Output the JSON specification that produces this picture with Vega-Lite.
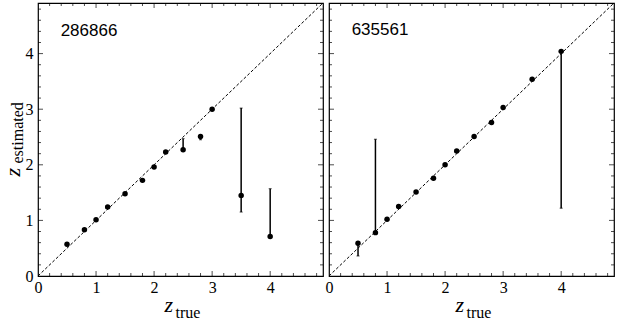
{
  "$schema": "https://vega.github.io/schema/vega-lite/v6.json",
  "padding": 0,
  "spacing": 6,
  "bounds": "flush",
  "datasets": {
    "a": [
      {"x": 0.5, "y": 0.57, "lo": null, "hi": null},
      {"x": 0.8, "y": 0.83, "lo": null, "hi": null},
      {"x": 1.0, "y": 1.01, "lo": null, "hi": null},
      {"x": 1.2, "y": 1.24, "lo": null, "hi": null},
      {"x": 1.5, "y": 1.48, "lo": null, "hi": null},
      {"x": 1.8, "y": 1.72, "lo": null, "hi": null},
      {"x": 2.0, "y": 1.96, "lo": null, "hi": null},
      {"x": 2.2, "y": 2.23, "lo": null, "hi": null},
      {"x": 2.5, "y": 2.27, "lo": 2.27, "hi": 2.47},
      {"x": 2.8, "y": 2.51, "lo": 2.45, "hi": 2.54},
      {"x": 3.0, "y": 3.0, "lo": null, "hi": null},
      {"x": 3.5, "y": 1.45, "lo": 1.15, "hi": 3.02},
      {"x": 4.0, "y": 0.71, "lo": 0.71, "hi": 1.57}
    ],
    "b": [
      {"x": 0.5, "y": 0.59, "lo": 0.36, "hi": 0.59},
      {"x": 0.8, "y": 0.78, "lo": 0.78, "hi": 2.46},
      {"x": 1.0, "y": 1.02, "lo": null, "hi": null},
      {"x": 1.2, "y": 1.25, "lo": null, "hi": null},
      {"x": 1.5, "y": 1.51, "lo": null, "hi": null},
      {"x": 1.8, "y": 1.76, "lo": null, "hi": null},
      {"x": 2.0, "y": 2.0, "lo": null, "hi": null},
      {"x": 2.2, "y": 2.25, "lo": null, "hi": null},
      {"x": 2.5, "y": 2.51, "lo": null, "hi": null},
      {"x": 2.8, "y": 2.76, "lo": null, "hi": null},
      {"x": 3.0, "y": 3.03, "lo": null, "hi": null},
      {"x": 3.5, "y": 3.54, "lo": null, "hi": null},
      {"x": 4.0, "y": 4.04, "lo": 1.22, "hi": 4.04}
    ],
    "diag": [{"x": 0, "y": 0}, {"x": 4.91, "y": 4.91}],
    "tk": [
      {"v": 0.2}, {"v": 0.4}, {"v": 0.6}, {"v": 0.8}, {"v": 1},
      {"v": 1.2}, {"v": 1.4}, {"v": 1.6}, {"v": 1.8}, {"v": 2},
      {"v": 2.2}, {"v": 2.4}, {"v": 2.6}, {"v": 2.8}, {"v": 3},
      {"v": 3.2}, {"v": 3.4}, {"v": 3.6}, {"v": 3.8}, {"v": 4},
      {"v": 4.2}, {"v": 4.4}, {"v": 4.6}, {"v": 4.8}
    ]
  },
  "hconcat": [
    {
      "width": 285,
      "height": 273,
      "layer": [
        {
          "data": {"name": "diag"},
          "mark": {"type": "line", "color": "black", "strokeWidth": 1, "strokeDash": [3, 2]},
          "encoding": {
            "x": {"field": "x", "type": "quantitative", "scale": {"domain": [0, 4.91], "nice": false, "zero": false},
              "axis": {"orient": "bottom", "values": [0, 1, 2, 3, 4], "labelPadding": 3, "labelFlush": false, "labelFontSize": 16, "title": null}},
            "y": {"field": "y", "type": "quantitative", "scale": {"domain": [0, 4.91], "nice": false, "zero": false},
              "axis": {"orient": "left", "values": [0, 1, 2, 3, 4], "labelPadding": 5, "labelFlush": false, "labelFontSize": 16, "title": null}}
          }
        },
        {
          "data": {"name": "tk"},
          "mark": {"type": "tick", "orient": "vertical", "clip": true, "color": "black", "thickness": 1},
          "encoding": {
            "x": {"field": "v", "type": "quantitative", "axis": null},
            "y": {"datum": 0, "type": "quantitative", "axis": null},
            "size": {"condition": {"test": "datum.v % 1 === 0", "value": 10}, "value": 6}
          }
        },
        {
          "data": {"name": "tk"},
          "mark": {"type": "tick", "orient": "vertical", "clip": true, "color": "black", "thickness": 1},
          "encoding": {
            "x": {"field": "v", "type": "quantitative", "axis": null},
            "y": {"datum": 4.91, "type": "quantitative", "axis": null},
            "size": {"condition": {"test": "datum.v % 1 === 0", "value": 10}, "value": 6}
          }
        },
        {
          "data": {"name": "tk"},
          "mark": {"type": "tick", "orient": "horizontal", "clip": true, "color": "black", "thickness": 1},
          "encoding": {
            "y": {"field": "v", "type": "quantitative", "axis": null},
            "x": {"datum": 0, "type": "quantitative", "axis": null},
            "size": {"condition": {"test": "datum.v % 1 === 0", "value": 10}, "value": 6}
          }
        },
        {
          "data": {"name": "tk"},
          "mark": {"type": "tick", "orient": "horizontal", "clip": true, "color": "black", "thickness": 1},
          "encoding": {
            "y": {"field": "v", "type": "quantitative", "axis": null},
            "x": {"datum": 4.91, "type": "quantitative", "axis": null},
            "size": {"condition": {"test": "datum.v % 1 === 0", "value": 10}, "value": 6}
          }
        },
        {
          "data": {"name": "a"},
          "transform": [{"filter": "datum.lo != null"}],
          "mark": {"type": "rule", "color": "black", "strokeWidth": 1.5},
          "encoding": {
            "x": {"field": "x", "type": "quantitative", "axis": null},
            "y": {"field": "lo", "type": "quantitative", "axis": null},
            "y2": {"field": "hi"}
          }
        },
        {
          "data": {"name": "a"},
          "mark": {"type": "point", "shape": "circle", "filled": true, "color": "black", "opacity": 1, "size": 30},
          "encoding": {
            "x": {"field": "x", "type": "quantitative", "axis": null},
            "y": {"field": "y", "type": "quantitative", "axis": null}
          }
        },
        {
          "data": {"name": "a"},
          "transform": [{"filter": "datum.lo != null"}],
          "mark": {"type": "tick", "orient": "horizontal", "color": "black", "size": 3, "thickness": 1},
          "encoding": {
            "x": {"field": "x", "type": "quantitative", "axis": null},
            "y": {"field": "lo", "type": "quantitative", "axis": null}
          }
        },
        {
          "data": {"name": "a"},
          "transform": [{"filter": "datum.lo != null"}],
          "mark": {"type": "tick", "orient": "horizontal", "color": "black", "size": 3, "thickness": 1},
          "encoding": {
            "x": {"field": "x", "type": "quantitative",
              "axis": {"orient": "bottom", "labels": false, "title": "z", "titleFontStyle": "italic", "titleFontSize": 22, "titleAlign": "left", "titleBaseline": "alphabetic", "titleX": 126, "titleY": 35}},
            "y": {"field": "hi", "type": "quantitative",
              "axis": {"orient": "left", "labels": false, "title": "z", "titleFontStyle": "italic", "titleFontSize": 22, "titleAngle": -90, "titleAlign": "left", "titleBaseline": "alphabetic", "titleX": -19, "titleY": 173}}
          }
        },
        {
          "data": {"values": [{"label": "286866"}]},
          "mark": {"type": "text", "font": "Liberation Sans", "fontSize": 17, "align": "left", "baseline": "alphabetic", "color": "black"},
          "encoding": {
            "x": {"datum": 0.39, "type": "quantitative",
              "axis": {"orient": "bottom", "labels": false, "title": "true", "titleFontSize": 16, "titleAlign": "left", "titleBaseline": "alphabetic", "titleX": 137, "titleY": 41}},
            "y": {"datum": 4.31, "type": "quantitative",
              "axis": {"orient": "left", "labels": false, "title": "estimated", "titleFontSize": 16, "titleAngle": -90, "titleAlign": "left", "titleBaseline": "alphabetic", "titleX": -16, "titleY": 160}},
            "text": {"field": "label"}
          }
        }
      ],
      "resolve": {"axis": {"x": "independent", "y": "independent"}}
    },
    {
      "width": 285,
      "height": 273,
      "layer": [
        {
          "data": {"name": "diag"},
          "mark": {"type": "line", "color": "black", "strokeWidth": 1, "strokeDash": [3, 2]},
          "encoding": {
            "x": {"field": "x", "type": "quantitative", "scale": {"domain": [0, 4.91], "nice": false, "zero": false},
              "axis": {"orient": "bottom", "values": [0, 1, 2, 3, 4], "labelPadding": 3, "labelFlush": false, "labelFontSize": 16, "title": null}},
            "y": {"field": "y", "type": "quantitative", "scale": {"domain": [0, 4.91], "nice": false, "zero": false}, "axis": null}
          }
        },
        {
          "data": {"name": "tk"},
          "mark": {"type": "tick", "orient": "vertical", "clip": true, "color": "black", "thickness": 1},
          "encoding": {
            "x": {"field": "v", "type": "quantitative", "axis": null},
            "y": {"datum": 0, "type": "quantitative", "axis": null},
            "size": {"condition": {"test": "datum.v % 1 === 0", "value": 10}, "value": 6}
          }
        },
        {
          "data": {"name": "tk"},
          "mark": {"type": "tick", "orient": "vertical", "clip": true, "color": "black", "thickness": 1},
          "encoding": {
            "x": {"field": "v", "type": "quantitative", "axis": null},
            "y": {"datum": 4.91, "type": "quantitative", "axis": null},
            "size": {"condition": {"test": "datum.v % 1 === 0", "value": 10}, "value": 6}
          }
        },
        {
          "data": {"name": "tk"},
          "mark": {"type": "tick", "orient": "horizontal", "clip": true, "color": "black", "thickness": 1},
          "encoding": {
            "y": {"field": "v", "type": "quantitative", "axis": null},
            "x": {"datum": 0, "type": "quantitative", "axis": null},
            "size": {"condition": {"test": "datum.v % 1 === 0", "value": 10}, "value": 6}
          }
        },
        {
          "data": {"name": "tk"},
          "mark": {"type": "tick", "orient": "horizontal", "clip": true, "color": "black", "thickness": 1},
          "encoding": {
            "y": {"field": "v", "type": "quantitative", "axis": null},
            "x": {"datum": 4.91, "type": "quantitative", "axis": null},
            "size": {"condition": {"test": "datum.v % 1 === 0", "value": 10}, "value": 6}
          }
        },
        {
          "data": {"name": "b"},
          "transform": [{"filter": "datum.lo != null"}],
          "mark": {"type": "rule", "color": "black", "strokeWidth": 1.5},
          "encoding": {
            "x": {"field": "x", "type": "quantitative", "axis": null},
            "y": {"field": "lo", "type": "quantitative", "axis": null},
            "y2": {"field": "hi"}
          }
        },
        {
          "data": {"name": "b"},
          "mark": {"type": "point", "shape": "circle", "filled": true, "color": "black", "opacity": 1, "size": 30},
          "encoding": {
            "x": {"field": "x", "type": "quantitative", "axis": null},
            "y": {"field": "y", "type": "quantitative", "axis": null}
          }
        },
        {
          "data": {"name": "b"},
          "transform": [{"filter": "datum.lo != null"}],
          "mark": {"type": "tick", "orient": "horizontal", "color": "black", "size": 3, "thickness": 1},
          "encoding": {
            "x": {"field": "x", "type": "quantitative", "axis": null},
            "y": {"field": "lo", "type": "quantitative", "axis": null}
          }
        },
        {
          "data": {"name": "b"},
          "transform": [{"filter": "datum.lo != null"}],
          "mark": {"type": "tick", "orient": "horizontal", "color": "black", "size": 3, "thickness": 1},
          "encoding": {
            "x": {"field": "x", "type": "quantitative",
              "axis": {"orient": "bottom", "labels": false, "title": "z", "titleFontStyle": "italic", "titleFontSize": 22, "titleAlign": "left", "titleBaseline": "alphabetic", "titleX": 126, "titleY": 35}},
            "y": {"field": "hi", "type": "quantitative", "axis": null}
          }
        },
        {
          "data": {"values": [{"label": "635561"}]},
          "mark": {"type": "text", "font": "Liberation Sans", "fontSize": 17, "align": "left", "baseline": "alphabetic", "color": "black"},
          "encoding": {
            "x": {"datum": 0.39, "type": "quantitative",
              "axis": {"orient": "bottom", "labels": false, "title": "true", "titleFontSize": 16, "titleAlign": "left", "titleBaseline": "alphabetic", "titleX": 137, "titleY": 41}},
            "y": {"datum": 4.33, "type": "quantitative", "axis": null},
            "text": {"field": "label"}
          }
        }
      ],
      "resolve": {"axis": {"x": "independent", "y": "independent"}}
    }
  ],
  "config": {
    "font": "Liberation Serif",
    "view": {"stroke": "black", "strokeWidth": 1.2},
    "axis": {
      "domain": false, "grid": false, "ticks": false, "tickSize": 0,
      "labelColor": "black", "labelFont": "Liberation Serif",
      "titleFont": "Liberation Serif", "titleFontWeight": "normal", "titleColor": "black", "titlePadding": 0
    }
  }
}
